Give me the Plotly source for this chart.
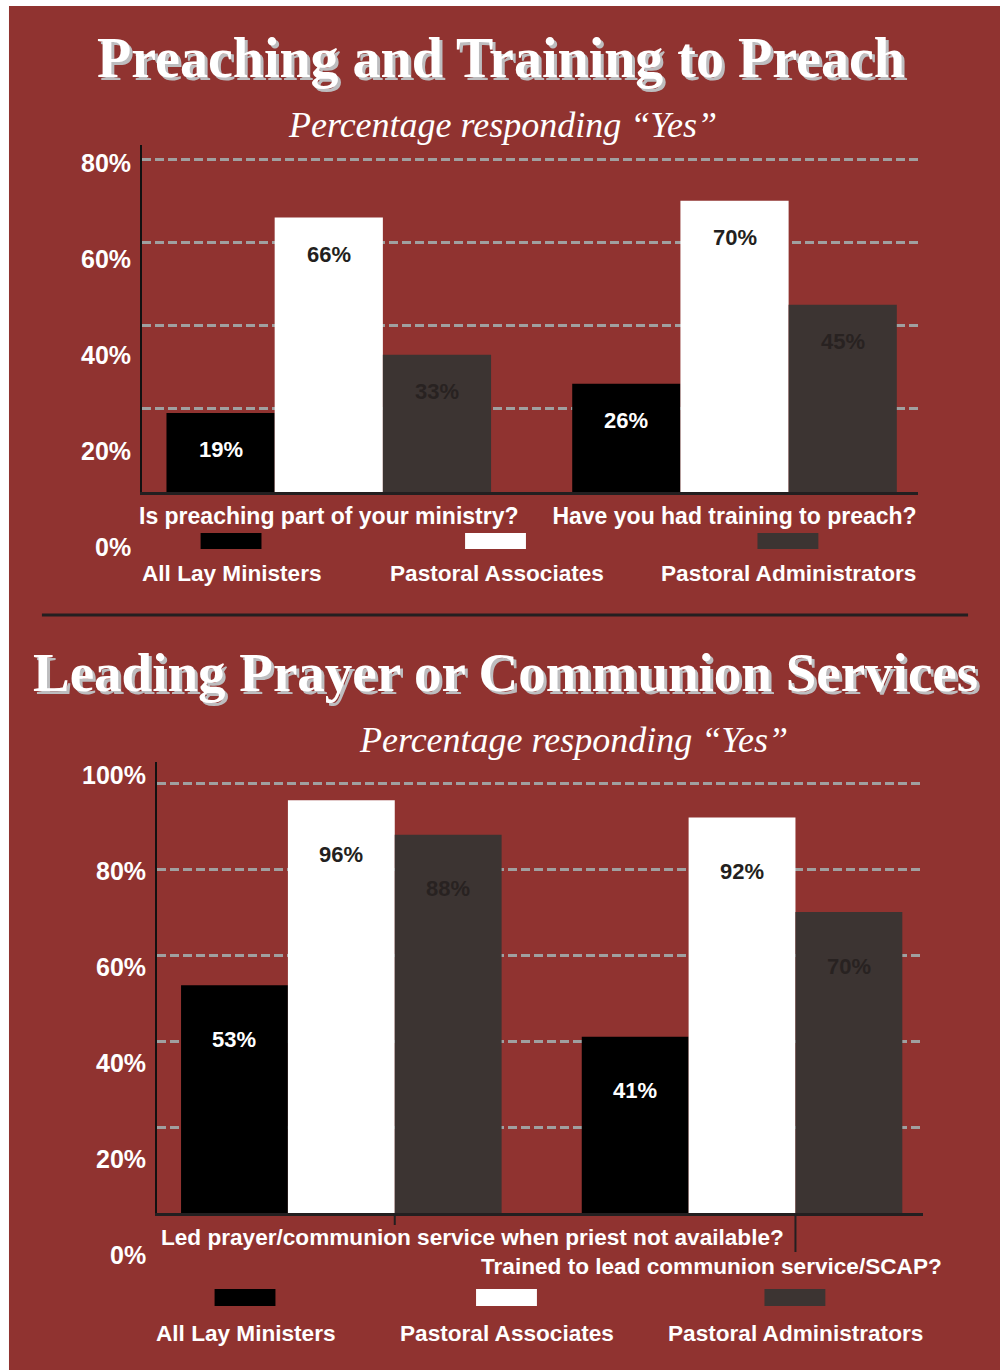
import plotly.graph_objects as go

W, H = 1000, 1370

# ---------------- data ----------------
series = ["All Lay Ministers", "Pastoral Associates", "Pastoral Administrators"]
bar_colors = ["#000000", "#ffffff", "#3c3432"]
value_colors = ["#ffffff", "#231f20", "#282221"]

subtitle = "Percentage responding \u201cYes\u201d"

top_title = "Preaching and Training to Preach"
top_categories = ["Is preaching part of your ministry?", "Have you had training to preach?"]
top_lay = [19, 26]
top_assoc = [66, 70]
top_admin = [33, 45]
top_ticklabels = ["80%", "60%", "40%", "20%", "0%"]

bot_title = "Leading Prayer or Communion Services"
bot_categories = ["Led prayer/communion service when priest not available?",
                  "Trained to lead communion service/SCAP?"]
bot_lay = [53, 41]
bot_assoc = [96, 92]
bot_admin = [88, 70]
bot_ticklabels = ["100%", "80%", "60%", "40%", "20%", "0%"]

# ---------------- helpers ----------------
BG = "#903330"
SANS = "Liberation Sans, Arial, sans-serif"
SERIF = "Liberation Serif, Times New Roman, serif"
BARGAP = 0.2


def px(p):
    return p / W


def py(p):
    return 1 - p / H


fig = go.Figure()

top_vals = [top_lay, top_assoc, top_admin]
bot_vals = [bot_lay, bot_assoc, bot_admin]

for j, name in enumerate(series):
    fig.add_trace(go.Bar(x=list(range(len(top_categories))), y=top_vals[j], name=name,
                         marker=dict(color=bar_colors[j], line=dict(width=0)),
                         xaxis="x", yaxis="y", showlegend=False, hoverinfo="skip"))
for j, name in enumerate(series):
    fig.add_trace(go.Bar(x=list(range(len(bot_categories))), y=bot_vals[j], name=name,
                         marker=dict(color=bar_colors[j], line=dict(width=0)),
                         xaxis="x2", yaxis="y2", showlegend=False, hoverinfo="skip"))

annotations = []
shapes = []

# background panel
shapes.append(dict(type="rect", xref="paper", yref="paper", x0=px(7), x1=1, y0=0, y1=py(6),
                   fillcolor=BG, line=dict(width=0), layer="below"))
# separator
shapes.append(dict(type="line", xref="paper", yref="paper", x0=px(40), x1=px(968),
                   y0=py(615), y1=py(615), line=dict(color="#231f20", width=3)))

# bar value labels
bw = (1 - BARGAP) / 3
for vals, xr, yr, shift in [(top_vals, "x", "y", -37), (bot_vals, "x2", "y2", -54)]:
    for j in range(3):
        for i, v in enumerate(vals[j]):
            annotations.append(dict(x=i + (j - 1) * bw, y=v, xref=xr, yref=yr, yshift=shift,
                                    text="<b>%d%%</b>" % v, showarrow=False,
                                    font=dict(family=SANS, size=22, color=value_colors[j]),
                                    xanchor="center", yanchor="middle"))


def text_at(xc, yc, text, font, xanchor="center"):
    annotations.append(dict(x=px(xc), y=py(yc), xref="paper", yref="paper",
                            text=text, showarrow=False, xanchor=xanchor, yanchor="middle",
                            font=font))


def title(text, xc, yc, size):
    text_at(xc, yc, "<b>%s</b>" % text,
            dict(family=SERIF, size=size, color="#ffffff", shadow="3px 3px 0px #bdbdbf"))


def sub(xc, yc):
    text_at(xc, yc, "<i>%s</i>" % subtitle, dict(family=SERIF, size=36, color="#ffffff"))


title(top_title, 500, 58, 56)
sub(502, 125)
title(bot_title, 505, 672, 55)
sub(573, 740)

# y tick labels (offset from gridlines, as in the original)
for k, t in enumerate(top_ticklabels):
    text_at(131, 163 + 96 * k, "<b>%s</b>" % t, dict(family=SANS, size=25, color="#ffffff"), "right")
for k, t in enumerate(bot_ticklabels):
    text_at(146, 775 + 96 * k, "<b>%s</b>" % t, dict(family=SANS, size=25, color="#ffffff"), "right")

# bottom category labels
text_at(157, 1237, "<b>%s</b>" % bot_categories[0], dict(family=SANS, size=22.6, color="#ffffff"), "left")
text_at(478, 1266, "<b>%s</b>" % bot_categories[1], dict(family=SANS, size=22.6, color="#ffffff"), "left")

# leader ticks in bottom chart
for i, y1 in enumerate([1225, 1252]):
    shapes.append(dict(type="line", xref="x2", yref="paper", x0=i + bw / 2, x1=i + bw / 2,
                       y0=py(1213), y1=py(y1), line=dict(color="#231f20", width=2)))


# custom legends
def legend(rects, ry, label_y):
    for j, (x0, x1) in enumerate(rects):
        shapes.append(dict(type="rect", xref="paper", yref="paper", x0=px(x0), x1=px(x1),
                           y0=py(ry[1]), y1=py(ry[0]), fillcolor=bar_colors[j], line=dict(width=0)))
        text_at((x0 + x1) / 2 + 1, label_y, "<b>%s</b>" % series[j],
                dict(family=SANS, size=22.6, color="#ffffff"))


legend([(199, 260), (464, 525), (757, 818)], (533, 549), 573)
legend([(213, 274), (475, 536), (764, 825)], (1289, 1306), 1333)

grid = dict(showgrid=True, gridcolor="#a0a0a0", gridwidth=2.5, griddash="9px,4px",
            showticklabels=False, ticks="", zeroline=False, showline=True,
            linecolor="#111111", linewidth=2, fixedrange=True)

fig.update_layout(
    width=W, height=H, margin=dict(l=0, r=0, t=0, b=0),
    paper_bgcolor="#ffffff", plot_bgcolor="rgba(0,0,0,0)",
    barmode="group", bargap=BARGAP, bargroupgap=0,
    showlegend=False,
    xaxis=dict(domain=[px(140), px(918)], range=[-0.461, 1.4526], anchor="y",
               tickvals=[0, 1], ticktext=["<b>%s</b>" % c for c in top_categories],
               tickfont=dict(family=SANS, size=23, color="#ffffff"),
               ticks="outside", ticklen=1, tickcolor="rgba(0,0,0,0)",
               showline=True, linecolor="#231f20", linewidth=3, showgrid=False,
               zeroline=False, fixedrange=True),
    yaxis=dict(domain=[py(492), py(145)], range=[0, 83.4], anchor="x",
               tickvals=[20, 40, 60, 80], **grid),
    xaxis2=dict(domain=[px(155), px(923)], range=[-0.4608, 1.452], anchor="y2",
                showticklabels=False, ticks="", showline=True, linecolor="#231f20",
                linewidth=3, showgrid=False, zeroline=False, fixedrange=True),
    yaxis2=dict(domain=[py(1213), py(762)], range=[0, 104.9], anchor="x2",
                tickvals=[20, 40, 60, 80, 100], **grid),
    annotations=annotations, shapes=shapes,
)

fig.write_html("out.html")
